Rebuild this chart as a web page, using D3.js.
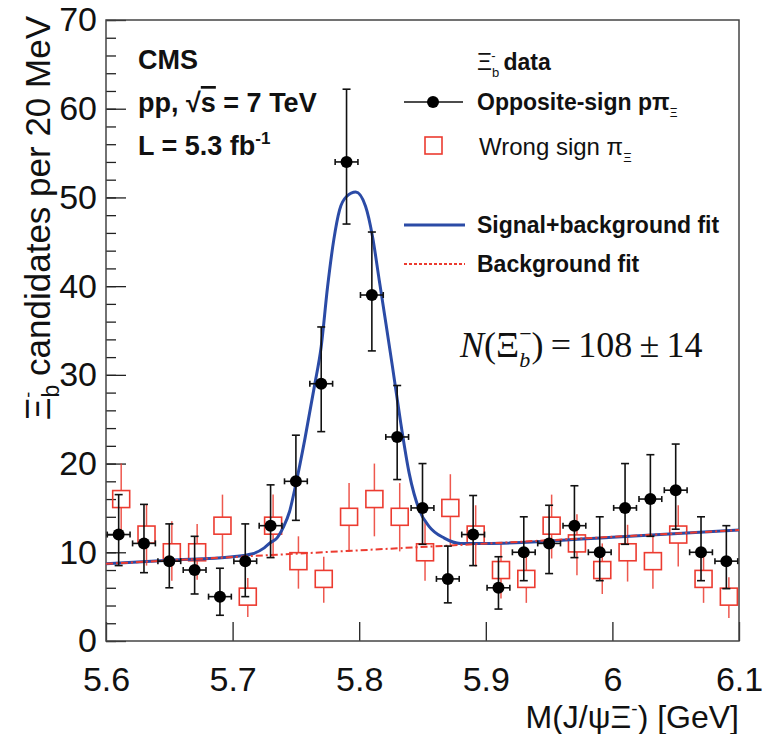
<!DOCTYPE html>
<html>
<head>
<meta charset="utf-8">
<script src="https://cdn.jsdelivr.net/npm/d3@7"></script>
<style>
  body { margin: 0; background: #fff; }
  text { font-family: "Liberation Sans", Arial, sans-serif; fill: #111; }
</style>
</head>
<body>
<div id="chart"></div>
<script>
// bin centres (GeV)
const mass = [5.61, 5.63, 5.65, 5.67, 5.69, 5.71, 5.73, 5.75, 5.77, 5.79, 5.81, 5.83, 5.85,
              5.87, 5.89, 5.91, 5.93, 5.95, 5.97, 5.99, 6.01, 6.03, 6.05, 6.07, 6.09];

// opposite-sign data
const osCounts = [12, 11, 9, 8, 5, 9, 13, 18, 29, 54, 39, 23, 15, 7, 12, 6, 10, 11, 13, 10, 15, 16, 17, 10, 9];
const osLow  = [8.5, 7.7, 6.0, 5.3, 2.9, 5.0, 9.4, 13.6, 23.6, 47.0, 32.7, 18.2, 10.9, 4.3, 8.5, 3.6, 6.8, 7.6, 9.4, 6.8, 10.9, 11.8, 12.6, 6.8, 5.9];
const osHigh = [16.5, 15.4, 13.2, 11.8, 8.2, 13.2, 17.6, 23.2, 35.4, 62.2, 46.1, 28.8, 20.0, 10.7, 16.4, 9.5, 14.0, 15.3, 17.5, 14.0, 20.0, 21.0, 22.2, 14.0, 13.0];

// wrong-sign data
const wsCounts = [16, 12, 10, 10, 13, 5, 13, 9, 7, 14, 16, 14, 10, 15, 12, 8, 7, 13, 11, 8, 10, 9, 12, 7, 5];
const wsLow  = [12.2, 8.5, 6.8, 6.9, 9.5, 2.7, 9.4, 5.9, 4.3, 10.1, 11.8, 10.1, 6.8, 10.8, 8.4, 4.8, 4.3, 9.3, 7.4, 5.3, 6.7, 5.9, 8.4, 4.3, 2.6];
const wsHigh = [20.0, 15.4, 13.5, 13.2, 16.5, 7.1, 16.5, 11.8, 9.5, 17.8, 20.0, 17.8, 13.4, 18.8, 15.3, 11.0, 9.8, 16.5, 14.3, 11.0, 13.1, 11.9, 15.3, 9.8, 7.2];

// signal+background fit
const fitMass = [5.600, 5.650, 5.700, 5.715, 5.725, 5.730, 5.735, 5.740, 5.745, 5.750, 5.757,
                 5.7646, 5.770, 5.775, 5.780, 5.7845, 5.790, 5.7973, 5.805, 5.8105, 5.8158,
                 5.8211, 5.8263, 5.8329, 5.8395, 5.8474, 5.8553, 5.8672, 5.880, 5.900, 6.000, 6.100];
const fitCounts = [8.7, 9.1, 9.5, 9.8, 10.5, 11.1, 11.6, 12.8, 14.6, 17.7, 22.7,
                   28.7, 33.2, 39.9, 45.3, 48.6, 50.1, 50.6, 49.0, 45.6, 40.7,
                   35.8, 30.9, 24.5, 18.9, 14.8, 12.9, 11.6, 11.0, 11.0, 11.7, 12.5];

// background-only fit
const bgMass = [5.6, 6.1];
const bgCounts = [8.7, 12.5];

const xTicks = [5.6, 5.7, 5.8, 5.9, 6.0, 6.1];
const yMajor = [0, 10, 20, 30, 40, 50, 60, 70];
const yMinor = d3.range(0, 71, 2);

const width = 764;
const height = 734;
const margin = {top: 20, right: 25, bottom: 93, left: 106};

const blue = "#2b4ba6";
const red = "#ec3b30";

const x = d3.scaleLinear().domain([5.6, 6.1]).range([margin.left, width - margin.right]);
const y = d3.scaleLinear().domain([0, 70]).range([height - margin.bottom, margin.top]);

const svg = d3.select("#chart").append("svg")
    .attr("width", width)
    .attr("height", height);

// axes (ticks point inward, ROOT style)
const xAxis = svg.append("g")
    .attr("transform", "translate(0," + y(0) + ")")
    .call(d3.axisBottom(x).tickValues(xTicks).tickSize(-19).tickPadding(26)
      .tickFormat(d => +d.toFixed(1)));
xAxis.select(".domain").remove();
xAxis.selectAll("line").attr("stroke", "#222").attr("stroke-width", 1.3);
xAxis.selectAll("text").attr("font-size", 34).attr("fill", "#111");

const yMinorAxis = svg.append("g")
    .attr("transform", "translate(" + x(5.6) + ",0)")
    .call(d3.axisLeft(y).tickValues(yMinor).tickSize(-10).tickFormat(""));
yMinorAxis.select(".domain").remove();
yMinorAxis.selectAll("line").attr("stroke", "#222").attr("stroke-width", 1.3);

const yAxis = svg.append("g")
    .attr("transform", "translate(" + x(5.6) + ",0)")
    .call(d3.axisLeft(y).tickValues(yMajor).tickSize(-20).tickPadding(9));
yAxis.select(".domain").remove();
yAxis.selectAll("line").attr("stroke", "#222").attr("stroke-width", 1.3);
yAxis.selectAll("text").attr("font-size", 34).attr("fill", "#111");

// frame
svg.append("rect")
    .attr("x", x(5.6)).attr("y", y(70))
    .attr("width", x(6.1) - x(5.6)).attr("height", y(0) - y(70))
    .attr("fill", "none").attr("stroke", "#444").attr("stroke-width", 1.5);

// axis titles
const xt = svg.append("text")
    .attr("x", x(6.1)).attr("y", 728)
    .attr("text-anchor", "end").attr("font-size", 32);
xt.append("tspan").text("M(J/ψΞ");
xt.append("tspan").attr("dy", -13).attr("font-size", 19).text("-");
xt.append("tspan").attr("dy", 13).text(") [GeV]");

const yt = svg.append("text")
    .attr("transform", "translate(50," + (y(70) - 4) + ") rotate(-90)")
    .attr("text-anchor", "end").attr("font-size", 35);
yt.append("tspan").text("Ξ");
yt.append("tspan").attr("dy", 9).attr("font-size", 23).text("b");
yt.append("tspan").attr("dx", -13).attr("dy", -25).attr("font-size", 18).text("-");
yt.append("tspan").attr("dx", 6).attr("dy", 16).text(" candidates per 20 MeV");

// wrong-sign points: hollow squares, bars stop at square edges
const half = 8.5;
const ws = svg.append("g");
mass.forEach((m, i) => {
  const cx = x(m + 0.002), cy = y(wsCounts[i]);
  ws.append("line")
    .attr("x1", cx).attr("x2", cx).attr("y1", y(wsHigh[i])).attr("y2", cy - half)
    .attr("stroke", red).attr("stroke-width", 1.5).attr("opacity", 0.85);
  ws.append("line")
    .attr("x1", cx).attr("x2", cx).attr("y1", cy + half).attr("y2", y(wsLow[i]))
    .attr("stroke", red).attr("stroke-width", 1.5).attr("opacity", 0.85);
  ws.append("rect")
    .attr("x", cx - half).attr("y", cy - half).attr("width", 2 * half).attr("height", 2 * half)
    .attr("fill", "none").attr("stroke", red).attr("stroke-width", 1.6);
});

// fits
svg.append("path")
    .datum(fitMass.map((m, i) => [m, fitCounts[i]]))
    .attr("d", d3.line().x(d => x(d[0])).y(d => y(d[1])).curve(d3.curveMonotoneX))
    .attr("fill", "none").attr("stroke", blue).attr("stroke-width", 3);
svg.append("path")
    .datum(bgMass.map((m, i) => [m, bgCounts[i]]))
    .attr("d", d3.line().x(d => x(d[0])).y(d => y(d[1])))
    .attr("fill", "none").attr("stroke", red).attr("stroke-width", 2)
    .attr("stroke-dasharray", "7,3,2,3");

// opposite-sign points with error bars and caps
const os = svg.append("g").attr("stroke", "#111").attr("stroke-width", 1.6);
mass.forEach((m, i) => {
  const cx = x(m), cy = y(osCounts[i]);
  const xl = x(m - 0.009), xr = x(m + 0.009);
  os.append("line").attr("x1", cx).attr("x2", cx).attr("y1", y(osHigh[i])).attr("y2", y(osLow[i]));
  os.append("line").attr("x1", cx - 4).attr("x2", cx + 4).attr("y1", y(osHigh[i])).attr("y2", y(osHigh[i]));
  os.append("line").attr("x1", cx - 4).attr("x2", cx + 4).attr("y1", y(osLow[i])).attr("y2", y(osLow[i]));
  os.append("line").attr("x1", xl).attr("x2", xr).attr("y1", cy).attr("y2", cy);
  os.append("line").attr("x1", xl).attr("x2", xl).attr("y1", cy - 3).attr("y2", cy + 3);
  os.append("line").attr("x1", xr).attr("x2", xr).attr("y1", cy - 3).attr("y2", cy + 3);
  os.append("circle").attr("cx", cx).attr("cy", cy).attr("r", 6).attr("fill", "#000").attr("stroke", "none");
});

// CMS label block
const head = svg.append("g").attr("font-weight", "bold").attr("font-size", 27);
head.append("text").attr("x", 138).attr("y", 69).text("CMS");
const ppt = head.append("text").attr("x", 138).attr("y", 112);
ppt.append("tspan").text("pp,  √");
ppt.append("tspan").attr("text-decoration", "overline").text("s");
ppt.append("tspan").text(" = 7 TeV");
const lum = head.append("text").attr("x", 138).attr("y", 155);
lum.append("tspan").text("L = 5.3 fb");
lum.append("tspan").attr("dy", -11).attr("font-size", 17).text("-1");

// legend
const lg = svg.append("g");
const t0 = lg.append("text").attr("x", 477).attr("y", 70).attr("font-size", 23);
t0.append("tspan").text("Ξ");
t0.append("tspan").attr("dy", 7).attr("font-size", 13).text("b");
t0.append("tspan").attr("dx", -8).attr("dy", -17).attr("font-size", 13).text("-");
t0.append("tspan").attr("dx", 8).attr("dy", 10).attr("font-weight", "bold").text("data");

lg.append("line").attr("x1", 404).attr("x2", 463).attr("y1", 102).attr("y2", 102)
    .attr("stroke", "#111").attr("stroke-width", 1.6);
lg.append("circle").attr("cx", 433).attr("cy", 102).attr("r", 6).attr("fill", "#000");
const t1 = lg.append("text").attr("x", 477).attr("y", 110).attr("font-size", 23).attr("font-weight", "bold");
t1.append("tspan").text("Opposite-sign pπ");
t1.append("tspan").attr("dy", 7).attr("font-size", 12).attr("font-weight", "normal").text("Ξ");

lg.append("rect").attr("x", 425).attr("y", 137).attr("width", 17).attr("height", 17)
    .attr("fill", "none").attr("stroke", red).attr("stroke-width", 1.6);
const t2 = lg.append("text").attr("x", 479).attr("y", 155).attr("font-size", 24);
t2.append("tspan").text("Wrong sign π");
t2.append("tspan").attr("dy", 7).attr("font-size", 13).text("Ξ");

lg.append("line").attr("x1", 404).attr("x2", 465).attr("y1", 225).attr("y2", 225)
    .attr("stroke", blue).attr("stroke-width", 3);
lg.append("text").attr("x", 477).attr("y", 233).attr("font-size", 23).attr("font-weight", "bold")
    .text("Signal+background fit");

lg.append("line").attr("x1", 404).attr("x2", 465).attr("y1", 264).attr("y2", 264)
    .attr("stroke", red).attr("stroke-width", 2).attr("stroke-dasharray", "3,2");
lg.append("text").attr("x", 477).attr("y", 272).attr("font-size", 23).attr("font-weight", "bold")
    .text("Background fit");

// yield
const ny = svg.append("text").attr("x", 460).attr("y", 357).attr("font-size", 36)
    .style("font-family", "'Liberation Serif', 'Times New Roman', serif");
ny.append("tspan").attr("font-style", "italic").text("N");
ny.append("tspan").text("(Ξ");
ny.append("tspan").attr("dy", 10).attr("font-size", 22).attr("font-style", "italic").text("b");
ny.append("tspan").attr("dx", -11).attr("dy", -26).attr("font-size", 22).text("−");
ny.append("tspan").attr("dy", 16).text(")\u2009=\u2009108\u2009±\u200914");
</script>
</body>
</html>
